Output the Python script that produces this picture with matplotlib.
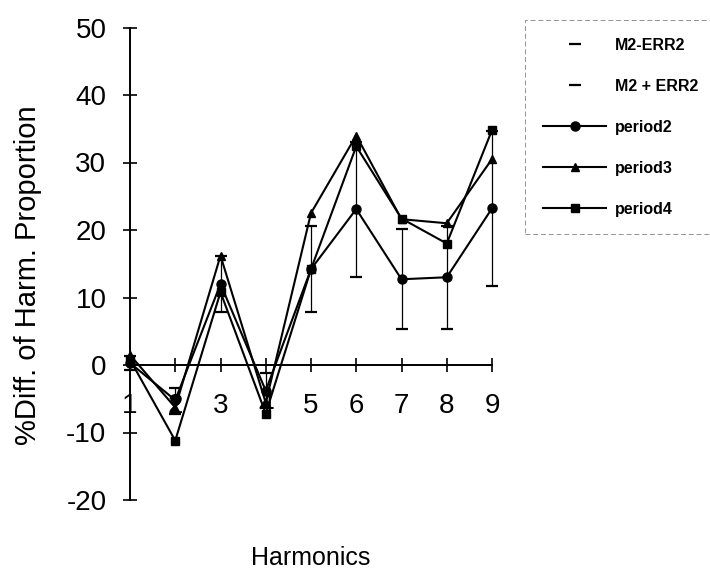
import matplotlib
matplotlib.use("Agg")
import matplotlib.pyplot as plt
import numpy as np

plt.rcParams['font.family'] = ['Liberation Sans', 'DejaVu Sans']

harmonics = [1, 2, 3, 4, 5, 6, 7, 8, 9]
period2 = [0.3, -5.2, 12.0, -3.8, 14.2, 23.1, 12.7, 13.0, 23.2]
period3 = [1.5, -6.3, 16.2, -5.6, 22.5, 34.0, 21.6, 21.0, 30.5]
period4 = [0.8, -11.2, 10.8, -7.2, 14.2, 32.4, 21.7, 18.0, 34.8]
m2_minus_err2 = [-0.8, -7.2, 7.8, -6.4, 7.8, 13.1, 5.4, 5.4, 11.7]
m2_plus_err2 = [1.4, -3.4, 16.2, -1.2, 20.6, 33.1, 20.1, 20.6, 34.7]
xticks = [1, 2, 3, 4, 5, 6, 7, 8, 9]
yticks = [-20, -10, 0, 10, 20, 30, 40, 50]

fig = plt.figure(figsize=(7.1, 5.82), dpi=100)
ax = fig.add_axes([130/710, 1-500/582, (492-130)/710, (500-27.5)/582])

# high-low lines for error bars
ax.vlines(harmonics, m2_minus_err2, m2_plus_err2, color='black', lw=0.9, zorder=2, clip_on=False)
ax.plot(harmonics, m2_minus_err2, ls='none', marker='_', ms=8, mew=1.6, color='black',
        label='M2-ERR2', zorder=3, clip_on=False)
ax.plot(harmonics, m2_plus_err2, ls='none', marker='_', ms=8, mew=1.6, color='black',
        label='M2 + ERR2', zorder=3, clip_on=False)

ax.plot(harmonics, period2, color='black', lw=1.5, marker='o', ms=6.5, label='period2', zorder=4, clip_on=False)
ax.plot(harmonics, period3, color='black', lw=1.5, marker='^', ms=6, label='period3', zorder=4, clip_on=False)
ax.plot(harmonics, period4, color='black', lw=1.5, marker='s', ms=6, label='period4', zorder=4, clip_on=False)

ax.set_xlim(1, 9)
ax.set_ylim(-20, 50)
for s in ['top', 'right']:
    ax.spines[s].set_visible(False)
ax.spines['bottom'].set_position(('data', 0))
ax.spines['bottom'].set_linewidth(1.4)
ax.spines['left'].set_linewidth(1.4)

ax.set_xticks(xticks)
ax.set_xticklabels([str(v) for v in xticks])
ax.set_yticks(yticks)
ax.set_yticklabels([str(v) for v in yticks])
ax.tick_params(axis='x', direction='inout', length=10, width=1.2, labelsize=20, pad=15)
ax.tick_params(axis='y', direction='inout', length=10, width=1.2, labelsize=20, pad=12)

fig.text(28/710, 1-275/582, '%Diff. of Harm. Proportion', rotation=90, ha='center', va='center', fontsize=21)
fig.text(311/710, 1-558/582, 'Harmonics', ha='center', va='center', fontsize=18)

leg = fig.legend(loc='upper left', bbox_to_anchor=(525/710, 1-230/582, 0.3, 210/582), mode='expand',
                 prop={'weight': 'bold', 'size': 11.5}, labelspacing=1.63, handlelength=4.0,
                 handletextpad=0.55, borderpad=1.1, borderaxespad=0, frameon=True, fancybox=False)
fr = leg.get_frame()
fr.set_edgecolor('#777777')
fr.set_linewidth(0.7)
fr.set_linestyle((0, (5, 3)))

fig.savefig('out.png', dpi=100)
